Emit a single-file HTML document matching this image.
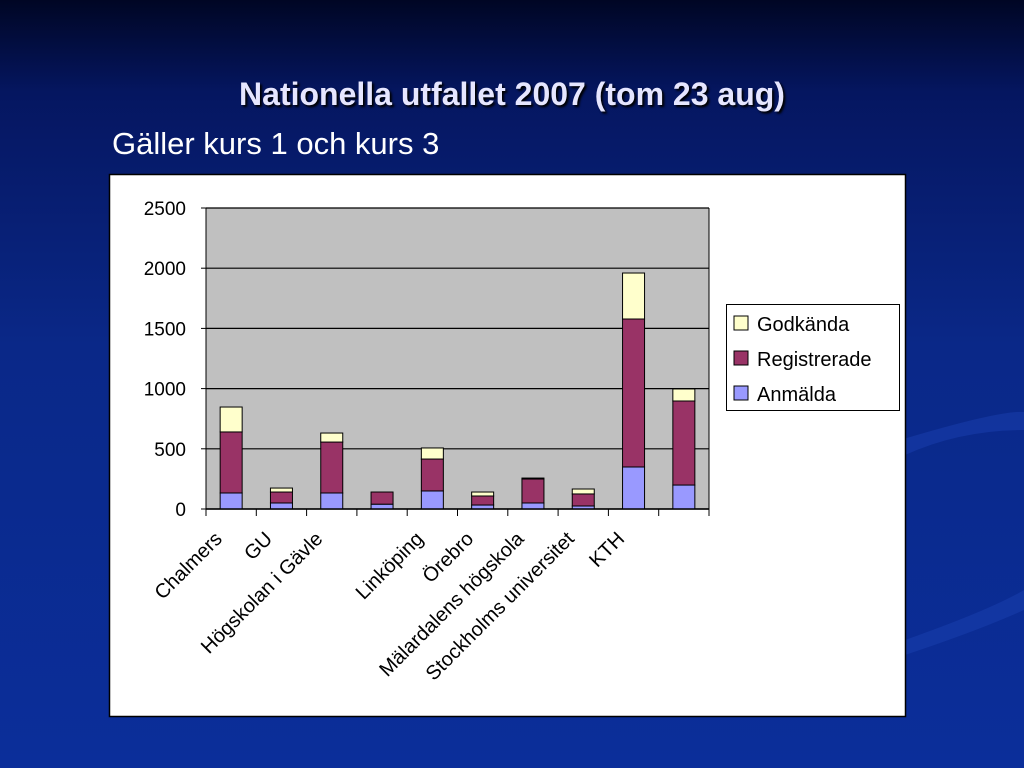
<!DOCTYPE html>
<html><head><meta charset="utf-8"><style>
body{margin:0;width:1024px;height:768px;overflow:hidden;background:linear-gradient(180deg,#000624 0%,#051660 12%,#0a2888 45%,#0b2e9a 100%);font-family:"Liberation Sans",sans-serif;position:relative}
.t1{position:absolute;left:0;width:1024px;top:76px;text-align:center;color:#e6e6ff;font-weight:bold;font-size:32px;text-shadow:2px 2px 2px #000;padding-left:0px}
.t2{position:absolute;left:112px;top:126px;color:#fff;font-size:31px}
</style></head><body>
<svg width="1024" height="768" style="position:absolute;left:0;top:0">
<path d="M900 440 Q1000 410 1024 412 L1024 430 Q960 430 905 455 Z" fill="#1a40b0" opacity="0.5"/>
<path d="M905 640 Q990 610 1024 590 L1024 610 Q980 630 905 655 Z" fill="#1a40b0" opacity="0.5"/>
</svg>
<div class="t1">Nationella utfallet 2007 (tom 23 aug)</div>
<div class="t2">Gäller kurs 1 och kurs 3</div>
<svg id="chart" width="1024" height="768" style="position:absolute;left:0;top:0">
<rect x="109.5" y="174.5" width="796" height="542" fill="#fff" stroke="#000" stroke-width="1.5"/>
<rect x="206" y="208" width="503" height="301" fill="#c0c0c0"/>
<g id="grid"></g><g id="bars"></g><g id="axes"></g>
<g>
<rect x="726.5" y="304.5" width="173" height="106" fill="#fff" stroke="#000"/>
<rect x="734" y="316" width="14" height="14" fill="#ffffcc" stroke="#000"/>
<text x="757" y="331" font-size="20">Godkända</text>
<rect x="734" y="351" width="14" height="14" fill="#993366" stroke="#000"/>
<text x="757" y="366" font-size="20">Registrerade</text>
<rect x="734" y="386" width="14" height="14" fill="#9999ff" stroke="#000"/>
<text x="757" y="401" font-size="20">Anmälda</text>
</g>
</svg>
<script>
const categories=["Chalmers","GU","Högskolan i Gävle","","Linköping","Örebro","Mälardalens högskola","Stockholms universitet","KTH",""];
const anmalda=[133,50,133,40,150,33,50,25,349,199];
const registrerade=[507,91,423,101,265,75,199,100,1229,698];
const godkanda=[207,33,75,0,92,33,8,41,382,100];
const yTicks=[0,500,1000,1500,2000,2500];
const NS="http://www.w3.org/2000/svg";
const x0=206,x1=709,y0=509,y1=208,yMax=2500;
const bw=(x1-x0)/categories.length;
const y=v=>y0-(v/yMax)*(y0-y1);
const xc=i=>x0+bw*(i+0.5);
function mk(t,a,p){const e=document.createElementNS(NS,t);for(const k in a)e.setAttribute(k,a[k]);p.appendChild(e);return e;}
const grid=document.getElementById('grid'),bars=document.getElementById('bars'),axes=document.getElementById('axes');
yTicks.forEach(v=>{
  const l=mk('line',{x1:x0,x2:x1,y1:y(v),y2:y(v),stroke:'#000','stroke-width':1.2},grid);
  
  
  mk('line',{x1:x0-5,x2:x0,y1:y(v),y2:y(v),stroke:'#000'},axes);
  const t=mk('text',{x:x0-20,y:y(v)+7,'text-anchor':'end','font-size':19},axes);
  t.textContent=v;
  
  
});
mk('line',{x1:x0,x2:x0,y1:y1,y2:y0,stroke:'#000'},axes);
mk('line',{x1:x1,x2:x1,y1:y1,y2:y0,stroke:'#000'},axes);
mk('line',{x1:x0,x2:x1,y1:y0,y2:y0,stroke:'#000','stroke-width':1.5},axes);
for(let i=0;i<=categories.length;i++)mk('line',{x1:x0+bw*i,x2:x0+bw*i,y1:y0,y2:y0+7,stroke:'#000'},axes);
const series=[[anmalda,'#9999ff','anmalda'],[registrerade,'#993366','registrerade'],[godkanda,'#ffffcc','godkanda']];
categories.forEach((c,i)=>{
  let base=0;
  series.forEach(([arr,col,nm])=>{
    const v=arr[i];
    if(v>0){
      const r=mk('rect',{x:xc(i)-11,width:22,y:y(base+v),height:y(base)-y(base+v),fill:col,stroke:'#000','stroke-width':1},bars);
      
      
    }
    base+=v;
  });
  if(c){
    const px=xc(i)-8,py=540;
    const t=mk('text',{x:px,y:py,'text-anchor':'end','font-size':20,transform:`rotate(-45 ${px} ${py})`},axes);
    t.textContent=c;
    
    
  }
});
</script>
</body></html>
